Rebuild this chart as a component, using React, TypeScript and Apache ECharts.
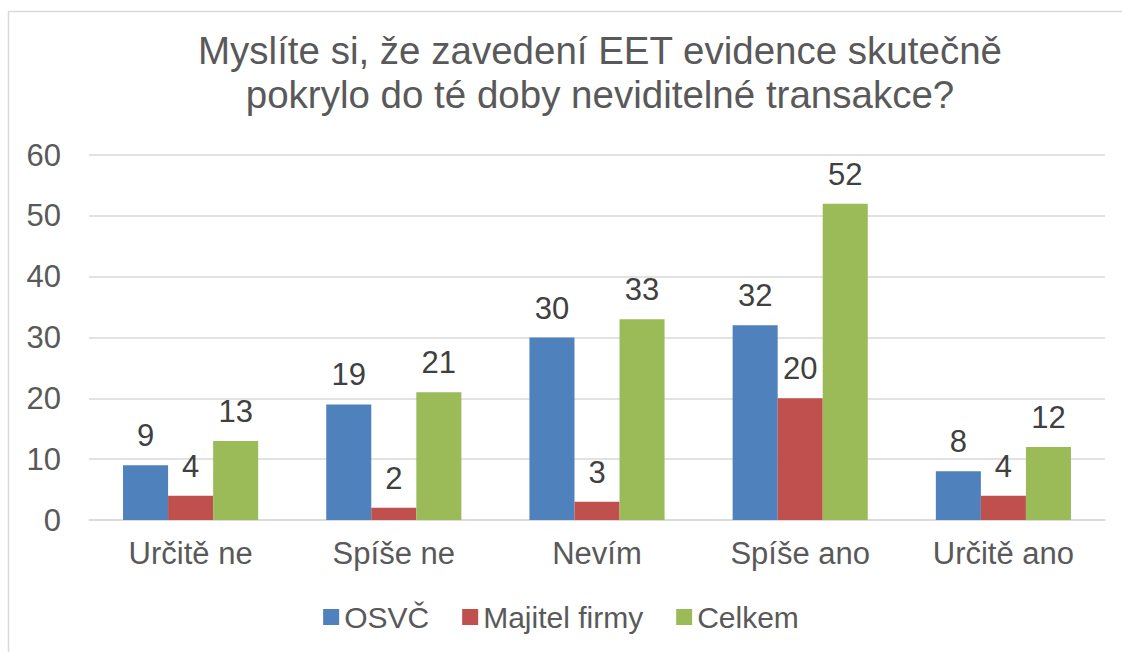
import React, { useEffect, useRef } from "react";
import * as echarts from "echarts";

const titleText = "Myslíte si, že zavedení EET evidence skutečně\npokrylo do té doby neviditelné transakce?";
const categories = ["Určitě ne", "Spíše ne", "Nevím", "Spíše ano", "Určitě ano"];
const seriesNames = ["OSVČ", "Majitel firmy", "Celkem"];
const osvc = [9, 19, 30, 32, 8];
const majitel = [4, 2, 3, 20, 4];
const celkem = [13, 21, 33, 52, 12];
const colors = ["#4F81BD", "#C0504D", "#9BBB59"];

const FONT = "'Liberation Sans', Arial, sans-serif";

export default function App() {
  const ref = useRef<HTMLDivElement>(null);
  useEffect(() => {
    if (!ref.current) return;
    const chart = echarts.init(ref.current, null, { renderer: "svg" });
    const values = [osvc, majitel, celkem];
    chart.setOption({
      animation: false,
      backgroundColor: "#ffffff",
      textStyle: { fontFamily: FONT },
      title: {
        text: titleText,
        left: 595,
        top: 23,
        textAlign: "center",
        textStyle: {
          fontFamily: FONT,
          fontSize: 38.5,
          fontWeight: "normal",
          color: "#595959",
          lineHeight: 44,
        },
      },
      graphic: [
        {
          type: "rect",
          shape: { x: 8.5, y: 11.5, width: 1200, height: 700 },
          style: { fill: "none", stroke: "#d9d9d9", lineWidth: 1.5 },
          silent: true,
        },
      ],
      legend: {
        left: "center",
        top: 597,
        itemWidth: 16,
        itemHeight: 16,
        itemGap: 33,
        icon: "rect",
        textStyle: { fontFamily: FONT, fontSize: 30, color: "#595959" },
        data: seriesNames,
      },
      grid: { left: 89, right: 17, top: 155, bottom: 132, containLabel: false },
      xAxis: {
        type: "category",
        data: categories,
        axisLine: { show: true, lineStyle: { color: "#d9d9d9", width: 1.5 } },
        axisTick: { show: false },
        axisLabel: { fontFamily: FONT, fontSize: 31, color: "#595959", margin: 18 },
      },
      yAxis: {
        type: "value",
        min: 0,
        max: 60,
        interval: 10,
        axisLine: { show: false },
        axisTick: { show: false },
        splitLine: { lineStyle: { color: "#d9d9d9", width: 1.5 } },
        axisLabel: { fontFamily: FONT, fontSize: 31, color: "#595959", margin: 28 },
      },
      series: seriesNames.map((name, i) => ({
        name,
        type: "bar",
        data: values[i],
        barGap: "0%",
        barCategoryGap: "33.5%",
        itemStyle: { color: colors[i] },
        label: {
          show: true,
          position: "top",
          distance: 14,
          fontFamily: FONT,
          fontSize: 31,
          color: "#404040",
        },
      })),
    });
    return () => chart.dispose();
  }, []);
  return (
    <div
      ref={ref}
      style={{ position: "fixed", left: 0, top: 0, width: 1122, height: 652 }}
    />
  );
}
